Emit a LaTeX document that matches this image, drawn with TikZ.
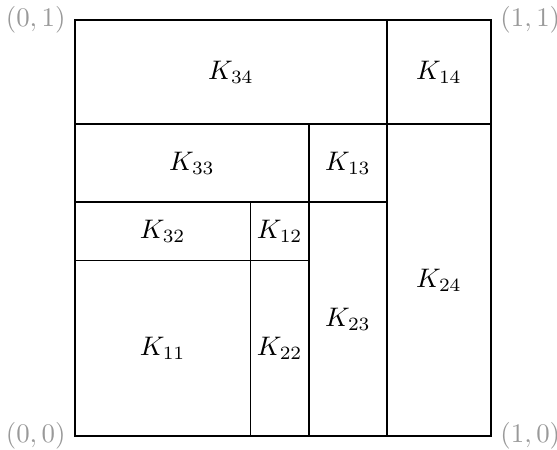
\documentclass[tikz,border=0pt]{standalone}
\begin{document}
\begin{tikzpicture}[x=5.45cm,y=5.45cm,
  cell/.style={draw=black,line width=0.4pt},
  lbl/.style={inner sep=0pt},
  corner/.style={text=black!40}]
\useasboundingbox (-75/416,-14/416) rectangle (482/416,436/416);
\def\a{0.75}\def\b{0.5625}\def\c{0.421875}
\coordinate (O) at (0,0);
\coordinate (A) at (1,0);
\coordinate (B) at (1,1);
\coordinate (C) at (0,1);
\draw[cell] (O) rectangle (B);
\draw[cell] (0,\a) -- (1,\a);
\draw[cell] (\a,\a) -- (\a,1);
\draw[cell] (\a,0) -- (\a,\a);
\draw[cell] (0,\b) -- (\a,\b);
\draw[cell] (\b,0) -- (\b,\a);
\draw[cell] (0,\c) -- (\b,\c);
\draw[cell] (\c,0) -- (\c,\b);
\node[lbl] (k34) at ({\a/2},{(1+\a)/2}) {$K_{34}$};
\node[lbl] (k14) at ({(1+\a)/2},{(1+\a)/2}) {$K_{14}$};
\node[lbl] (k24) at ({(1+\a)/2},{\a/2}) {$K_{24}$};
\node[lbl] (k33) at ({\b/2},{(\a+\b)/2}) {$K_{33}$};
\node[lbl] (k13) at ({(\a+\b)/2},{(\a+\b)/2}) {$K_{13}$};
\node[lbl] (k23) at ({(\a+\b)/2},{\b/2}) {$K_{23}$};
\node[lbl] (k32) at ({\c/2},{(\b+\c)/2}) {$K_{32}$};
\node[lbl] (k12) at ({(\b+\c)/2},{(\b+\c)/2}) {$K_{12}$};
\node[lbl] (k22) at ({(\b+\c)/2},{\c/2}) {$K_{22}$};
\node[lbl] (k11) at ({\c/2},{\c/2}) {$K_{11}$};
\node[corner,left] (lO) at (O) {$(0,0)$};
\node[corner,right] (lA) at (A) {$(1,0)$};
\node[corner,right] (lB) at (B) {$(1,1)$};
\node[corner,left] (lC) at (C) {$(0,1)$};
\end{tikzpicture}
\end{document}
